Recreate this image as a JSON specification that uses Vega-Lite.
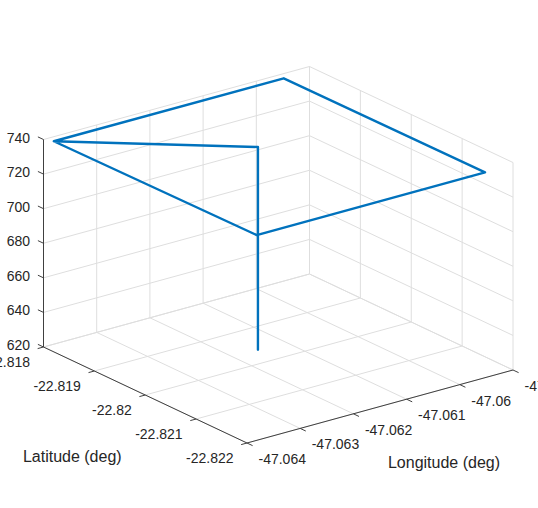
{
  "$schema": "https://vega.github.io/schema/vega-lite/v6.json",
  "width": 538,
  "height": 508,
  "padding": 0,
  "autosize": {"type": "none"},
  "background": "white",
  "config": {"view": {"stroke": null}, "text": {"font": "Liberation Sans", "color": "#262626"}},
  "datasets": {
    "path": [
      {"i": 1, "lon": -47.061527, "lat": -22.819629, "alt": 620.2},
      {"i": 2, "lon": -47.061527, "lat": -22.819629, "alt": 737.4},
      {"i": 3, "lon": -47.063816, "lat": -22.81801, "alt": 737.6},
      {"i": 4, "lon": -47.059494, "lat": -22.81801, "alt": 737.5},
      {"i": 5, "lon": -47.059471, "lat": -22.821943, "alt": 737.5},
      {"i": 6, "lon": -47.063764, "lat": -22.821944, "alt": 737.5},
      {"i": 7, "lon": -47.063816, "lat": -22.81801, "alt": 737.6},
      {"i": 8, "lon": -47.061527, "lat": -22.819629, "alt": 737.4},
      {"i": 9, "lon": -47.061527, "lat": -22.819629, "alt": 620.2}
    ],
    "ticks": [
      {"axis": "lat", "value": -22.818, "label": "-22.818"},
      {"axis": "lat", "value": -22.819, "label": "-22.819"},
      {"axis": "lat", "value": -22.82, "label": "-22.82"},
      {"axis": "lat", "value": -22.821, "label": "-22.821"},
      {"axis": "lat", "value": -22.822, "label": "-22.822"},
      {"axis": "lon", "value": -47.064, "label": "-47.064"},
      {"axis": "lon", "value": -47.063, "label": "-47.063"},
      {"axis": "lon", "value": -47.062, "label": "-47.062"},
      {"axis": "lon", "value": -47.061, "label": "-47.061"},
      {"axis": "lon", "value": -47.06, "label": "-47.06"},
      {"axis": "lon", "value": -47.059, "label": "-47.059"},
      {"axis": "alt", "value": 620, "label": "620"},
      {"axis": "alt", "value": 640, "label": "640"},
      {"axis": "alt", "value": 660, "label": "660"},
      {"axis": "alt", "value": 680, "label": "680"},
      {"axis": "alt", "value": 700, "label": "700"},
      {"axis": "alt", "value": 720, "label": "720"},
      {"axis": "alt", "value": 740, "label": "740"}
    ],
    "axislines": [
      {"lon1": -47.064, "lat1": -22.818, "alt1": 620, "lon2": -47.064, "lat2": -22.818, "alt2": 740},
      {"lon1": -47.064, "lat1": -22.818, "alt1": 620, "lon2": -47.064, "lat2": -22.822, "alt2": 620},
      {"lon1": -47.064, "lat1": -22.822, "alt1": 620, "lon2": -47.059, "lat2": -22.822, "alt2": 620}
    ],
    "titles": [
      {"axis": "lat", "title": "Latitude (deg)", "lon1": -47.064, "lat1": -22.82, "alt1": 620},
      {"axis": "lon", "title": "Longitude (deg)", "lon1": -47.0615, "lat1": -22.822, "alt1": 620}
    ]
  },
  "encoding": {
    "x": {"field": "px", "type": "quantitative", "scale": {"domain": [-247, 291], "nice": false, "zero": false}, "axis": null},
    "y": {"field": "py", "type": "quantitative", "scale": {"domain": [-65, 443], "nice": false, "zero": false}, "axis": null}
  },
  "layer": [
    {
      "data": {"name": "ticks"},
      "transform": [
        {"calculate": "datum.axis=='lon' ? datum.value : -47.064", "as": "lon1"},
        {"calculate": "datum.axis=='lat' ? datum.value : (datum.axis=='lon' ? -22.822 : -22.818)", "as": "lat1"},
        {"calculate": "datum.axis=='alt' ? datum.value : 620", "as": "alt1"},
        {"calculate": "datum.axis=='lon' ? datum.value : -47.059", "as": "lon2"},
        {"calculate": "datum.axis=='lat' ? datum.value : -22.818", "as": "lat2"},
        {"calculate": "datum.axis=='alt' ? datum.value : 620", "as": "alt2"},
        {"calculate": "53.2*(datum.lon1+47.064)*1000-50.875*(datum.lat1+22.822)*1000", "as": "px"},
        {"calculate": "14.6*(datum.lon1+47.064)*1000+24*(datum.lat1+22.822)*1000+1.729*(datum.alt1-620)", "as": "py"},
        {"calculate": "53.2*(datum.lon2+47.064)*1000-50.875*(datum.lat2+22.822)*1000", "as": "px2"},
        {"calculate": "14.6*(datum.lon2+47.064)*1000+24*(datum.lat2+22.822)*1000+1.729*(datum.alt2-620)", "as": "py2"}
      ],
      "mark": {"type": "rule", "color": "#dedede", "strokeWidth": 1},
      "encoding": {"x2": {"field": "px2"}, "y2": {"field": "py2"}}
    },
    {
      "data": {"name": "ticks"},
      "transform": [
        {"calculate": "datum.axis=='lon' ? datum.value : -47.059", "as": "lon1"},
        {"calculate": "datum.axis=='lat' ? datum.value : (datum.axis=='lon' ? -22.818 : -22.822)", "as": "lat1"},
        {"calculate": "datum.axis=='alt' ? datum.value : 620", "as": "alt1"},
        {"calculate": "datum.lon1", "as": "lon2"},
        {"calculate": "datum.axis=='lat' ? datum.value : -22.818", "as": "lat2"},
        {"calculate": "datum.axis=='alt' ? datum.value : 740", "as": "alt2"},
        {"calculate": "53.2*(datum.lon1+47.064)*1000-50.875*(datum.lat1+22.822)*1000", "as": "px"},
        {"calculate": "14.6*(datum.lon1+47.064)*1000+24*(datum.lat1+22.822)*1000+1.729*(datum.alt1-620)", "as": "py"},
        {"calculate": "53.2*(datum.lon2+47.064)*1000-50.875*(datum.lat2+22.822)*1000", "as": "px2"},
        {"calculate": "14.6*(datum.lon2+47.064)*1000+24*(datum.lat2+22.822)*1000+1.729*(datum.alt2-620)", "as": "py2"}
      ],
      "mark": {"type": "rule", "color": "#dedede", "strokeWidth": 1},
      "encoding": {"x2": {"field": "px2"}, "y2": {"field": "py2"}}
    },
    {
      "data": {"name": "axislines"},
      "transform": [
        {"calculate": "53.2*(datum.lon1+47.064)*1000-50.875*(datum.lat1+22.822)*1000", "as": "px"},
        {"calculate": "14.6*(datum.lon1+47.064)*1000+24*(datum.lat1+22.822)*1000+1.729*(datum.alt1-620)", "as": "py"},
        {"calculate": "53.2*(datum.lon2+47.064)*1000-50.875*(datum.lat2+22.822)*1000", "as": "px2"},
        {"calculate": "14.6*(datum.lon2+47.064)*1000+24*(datum.lat2+22.822)*1000+1.729*(datum.alt2-620)", "as": "py2"}
      ],
      "mark": {"type": "rule", "color": "#404040", "strokeWidth": 1},
      "encoding": {"x2": {"field": "px2"}, "y2": {"field": "py2"}}
    },
    {
      "data": {"name": "ticks"},
      "transform": [
        {"calculate": "datum.axis=='lon' ? datum.value : -47.064", "as": "lon1"},
        {"calculate": "datum.axis=='lat' ? datum.value : (datum.axis=='lon' ? -22.822 : -22.818)", "as": "lat1"},
        {"calculate": "datum.axis=='alt' ? datum.value : 620", "as": "alt1"},
        {"calculate": "datum.axis=='lat' ? -47.06411 : datum.lon1", "as": "lon2"},
        {"calculate": "datum.axis=='lon' ? -22.82211 : (datum.axis=='alt' ? -22.81789 : datum.value)", "as": "lat2"},
        {"calculate": "datum.alt1", "as": "alt2"},
        {"calculate": "53.2*(datum.lon1+47.064)*1000-50.875*(datum.lat1+22.822)*1000", "as": "px"},
        {"calculate": "14.6*(datum.lon1+47.064)*1000+24*(datum.lat1+22.822)*1000+1.729*(datum.alt1-620)", "as": "py"},
        {"calculate": "53.2*(datum.lon2+47.064)*1000-50.875*(datum.lat2+22.822)*1000", "as": "px2"},
        {"calculate": "14.6*(datum.lon2+47.064)*1000+24*(datum.lat2+22.822)*1000+1.729*(datum.alt2-620)", "as": "py2"}
      ],
      "mark": {"type": "rule", "color": "#404040", "strokeWidth": 1},
      "encoding": {"x2": {"field": "px2"}, "y2": {"field": "py2"}}
    },
    {
      "data": {"name": "ticks"},
      "transform": [
        {"filter": "datum.axis=='lat'"},
        {"calculate": "-50.875*(datum.value+22.822)*1000", "as": "px"},
        {"calculate": "24*(datum.value+22.822)*1000", "as": "py"}
      ],
      "mark": {"type": "text", "align": "right", "baseline": "middle", "dx": -13.5, "dy": 15.5, "fontSize": 14},
      "encoding": {"text": {"field": "label"}}
    },
    {
      "data": {"name": "ticks"},
      "transform": [
        {"filter": "datum.axis=='lon'"},
        {"calculate": "53.2*(datum.value+47.064)*1000", "as": "px"},
        {"calculate": "14.6*(datum.value+47.064)*1000", "as": "py"}
      ],
      "mark": {"type": "text", "align": "left", "baseline": "middle", "dx": 11.5, "dy": 17, "fontSize": 14},
      "encoding": {"text": {"field": "label"}}
    },
    {
      "data": {"name": "ticks"},
      "transform": [
        {"filter": "datum.axis=='alt'"},
        {"calculate": "-50.875*4", "as": "px"},
        {"calculate": "24*4+1.729*(datum.value-620)", "as": "py"}
      ],
      "mark": {"type": "text", "align": "right", "baseline": "middle", "dx": -13.5, "dy": -1, "fontSize": 14},
      "encoding": {"text": {"field": "label"}}
    },
    {
      "data": {"name": "titles"},
      "transform": [
        {"filter": "datum.axis=='lat'"},
        {"calculate": "53.2*(datum.lon1+47.064)*1000-50.875*(datum.lat1+22.822)*1000", "as": "px"},
        {"calculate": "14.6*(datum.lon1+47.064)*1000+24*(datum.lat1+22.822)*1000+1.729*(datum.alt1-620)", "as": "py"}
      ],
      "mark": {"type": "text", "align": "center", "baseline": "middle", "dx": -73, "dy": 62, "fontSize": 16},
      "encoding": {"text": {"field": "title"}}
    },
    {
      "data": {"name": "titles"},
      "transform": [
        {"filter": "datum.axis=='lon'"},
        {"calculate": "53.2*(datum.lon1+47.064)*1000-50.875*(datum.lat1+22.822)*1000", "as": "px"},
        {"calculate": "14.6*(datum.lon1+47.064)*1000+24*(datum.lat1+22.822)*1000+1.729*(datum.alt1-620)", "as": "py"}
      ],
      "mark": {"type": "text", "align": "center", "baseline": "middle", "dx": 64, "dy": 56.5, "fontSize": 16},
      "encoding": {"text": {"field": "title"}}
    },
    {
      "data": {"name": "path"},
      "transform": [
        {"calculate": "53.2*(datum.lon+47.064)*1000-50.875*(datum.lat+22.822)*1000", "as": "px"},
        {"calculate": "14.6*(datum.lon+47.064)*1000+24*(datum.lat+22.822)*1000+1.729*(datum.alt-620)", "as": "py"}
      ],
      "mark": {"type": "line", "color": "#0072BD", "strokeWidth": 2.4, "strokeJoin": "round", "strokeCap": "round"},
      "encoding": {"order": {"field": "i", "type": "quantitative"}}
    }
  ]
}
